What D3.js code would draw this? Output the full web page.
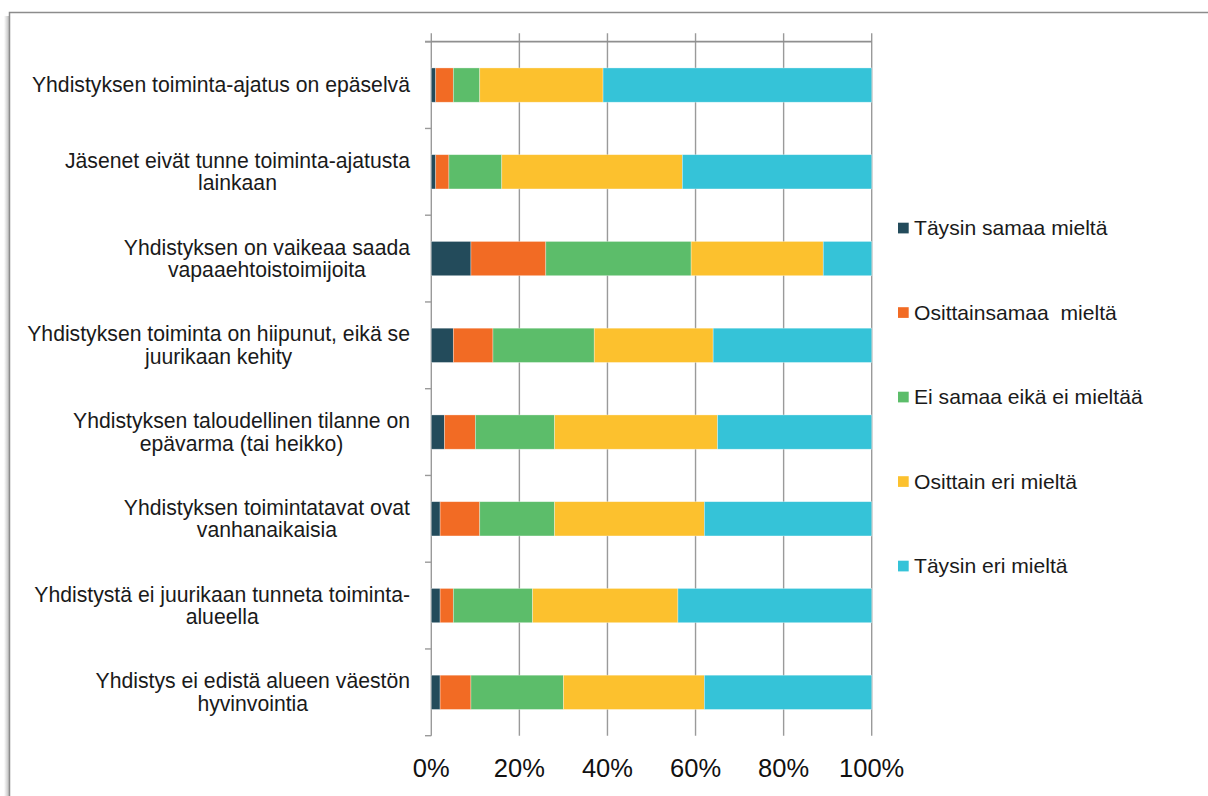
<!DOCTYPE html>
<html>
<head>
<meta charset="utf-8">
<script src="https://cdn.jsdelivr.net/npm/d3@7"></script>
<style>
  html, body { margin: 0; padding: 0; background: #fff; }
  svg { display: block; font-family: "Liberation Sans", Arial, sans-serif; }
</style>
</head>
<body>
<svg id="chart" width="1208" height="796"></svg>
<script>
// ---- data ----
const categories = [
  "Yhdistyksen toiminta-ajatus on epäselvä",
  "Jäsenet eivät tunne toiminta-ajatusta\nlainkaan",
  "Yhdistyksen on vaikeaa saada\nvapaaehtoistoimijoita",
  "Yhdistyksen toiminta on hiipunut, eikä se\njuurikaan kehity",
  "Yhdistyksen taloudellinen tilanne on\nepävarma (tai heikko)",
  "Yhdistyksen toimintatavat ovat\nvanhanaikaisia",
  "Yhdistystä ei juurikaan tunneta toiminta-\nalueella",
  "Yhdistys ei edistä alueen väestön\nhyvinvointia"
];
const seriesNames = [
  "Täysin samaa mieltä",
  "Osittainsamaa  mieltä",
  "Ei samaa eikä ei mieltää",
  "Osittain eri mieltä",
  "Täysin eri mieltä"
];
const taysinSamaa   = [1, 1, 9, 5, 3, 2, 2, 2];
const osittainSamaa = [4, 3, 17, 9, 7, 9, 3, 7];
const eiSamaaEikaEi = [6, 12, 33, 23, 18, 17, 18, 21];
const osittainEri   = [28, 41, 30, 27, 37, 34, 33, 32];
const taysinEri     = [61, 43, 11, 36, 35, 38, 44, 38];
const seriesColors = ["#234B5B", "#F26B24", "#5CBD6A", "#FCC12E", "#35C3D8"];
const xTicks = [0, 0.2, 0.4, 0.6, 0.8, 1.0];

// ---- build table ----
const seriesValues = [taysinSamaa, osittainSamaa, eiSamaaEikaEi, osittainEri, taysinEri];
const table = categories.map((c, i) => {
  const row = { cat: c };
  seriesNames.forEach((s, j) => row[s] = seriesValues[j][i]);
  return row;
});
const stack = d3.stack().keys(seriesNames).offset(d3.stackOffsetExpand);
const stacked = stack(table);

const svg = d3.select("#chart");

// ---- frame ----
const defs = svg.append("defs");
const grad = defs.append("linearGradient").attr("id", "shadow").attr("x1", "0").attr("x2", "1");
grad.append("stop").attr("offset", "0").attr("stop-color", "#fff");
grad.append("stop").attr("offset", "1").attr("stop-color", "#bdbdbd");
svg.append("rect").attr("x", 4).attr("y", 16).attr("width", 5).attr("height", 790).attr("fill", "url(#shadow)");
svg.append("path")
  .attr("d", "M9.5,800 V12.5 H1210")
  .attr("fill", "none").attr("stroke", "#8c8c8c").attr("stroke-width", 1.5);

// ---- scales ----
const x = d3.scaleLinear().domain([0, 1]).range([431.3, 871.7]);
const y = d3.scaleBand().domain(categories).range([41.7, 735.7])
  .paddingInner(0.605).paddingOuter(0.3025);

// ---- gridlines ----
const gridTop = 33.3, gridBottom = 735.7;
svg.append("g").selectAll("line").data(xTicks).join("line")
  .attr("x1", d => x(d)).attr("x2", d => x(d))
  .attr("y1", gridTop).attr("y2", gridBottom)
  .attr("stroke", "#9a9a9a").attr("stroke-width", 1.4);

// top horizontal axis line
svg.append("line")
  .attr("x1", 425).attr("x2", x(1)).attr("y1", y.range()[0]).attr("y2", y.range()[0])
  .attr("stroke", "#8f8f8f").attr("stroke-width", 1.8);

// left category axis ticks
const step = y.step();
const bounds = d3.range(categories.length + 1).map(i => y.range()[0] + i * step);
svg.append("g").selectAll("line").data(bounds).join("line")
  .attr("x1", 425).attr("x2", x(0))
  .attr("y1", d => d).attr("y2", d => d)
  .attr("stroke", "#9a9a9a").attr("stroke-width", 1.4);

// ---- bars ----
svg.append("g").selectAll("g").data(stacked).join("g")
  .attr("fill", (d, i) => seriesColors[i])
  .selectAll("rect").data(d => d).join("rect")
  .attr("x", d => x(d[0]))
  .attr("width", d => x(d[1]) - x(d[0]))
  .attr("y", d => y(d.data.cat))
  .attr("height", y.bandwidth())
  .attr("stroke", "#ffffff").attr("stroke-opacity", 0.45).attr("stroke-width", 0.7);

// ---- category labels ----
const labelRight = 410;
const labelFont = 21.2;
const lineH = 22.5;
const lg = svg.append("g").attr("font-size", labelFont).attr("fill", "#1a1a1a");
categories.forEach(c => {
  const lines = c.split("\n");
  const cy = y(c) + y.bandwidth() / 2;
  const t = lg.append("text").attr("text-anchor", "middle");
  const spans = lines.map((ln, k) => t.append("tspan")
    .attr("y", cy + (k - (lines.length - 1) / 2) * lineH)
    .attr("dy", "0.35em").text(ln));
  const widths = spans.map(s => s.node().getComputedTextLength());
  const w = d3.max(widths);
  spans.forEach(s => s.attr("x", labelRight - w / 2));
});

// ---- x tick labels ----
svg.append("g").attr("font-size", 25.5).attr("fill", "#111").attr("text-anchor", "middle")
  .selectAll("text").data(xTicks).join("text")
  .attr("x", d => x(d)).attr("y", 777)
  .text(d => d3.format(".0%")(d));

// ---- legend ----
const legendY = d3.scaleLinear().domain([0, seriesNames.length - 1]).range([228, 566]);
const leg = svg.append("g").selectAll("g").data(seriesNames).join("g")
  .attr("transform", (d, i) => `translate(898,${legendY(i)})`);
leg.append("rect").attr("x", 0).attr("y", -5.3).attr("width", 10.7).attr("height", 10.7)
  .attr("fill", (d, i) => seriesColors[i]);
leg.append("text").attr("x", 16).attr("dy", "0.35em").attr("font-size", 21.1).attr("fill", "#1a1a1a")
  .attr("xml:space", "preserve").style("white-space", "pre")
  .text(d => d);
</script>
</body>
</html>
